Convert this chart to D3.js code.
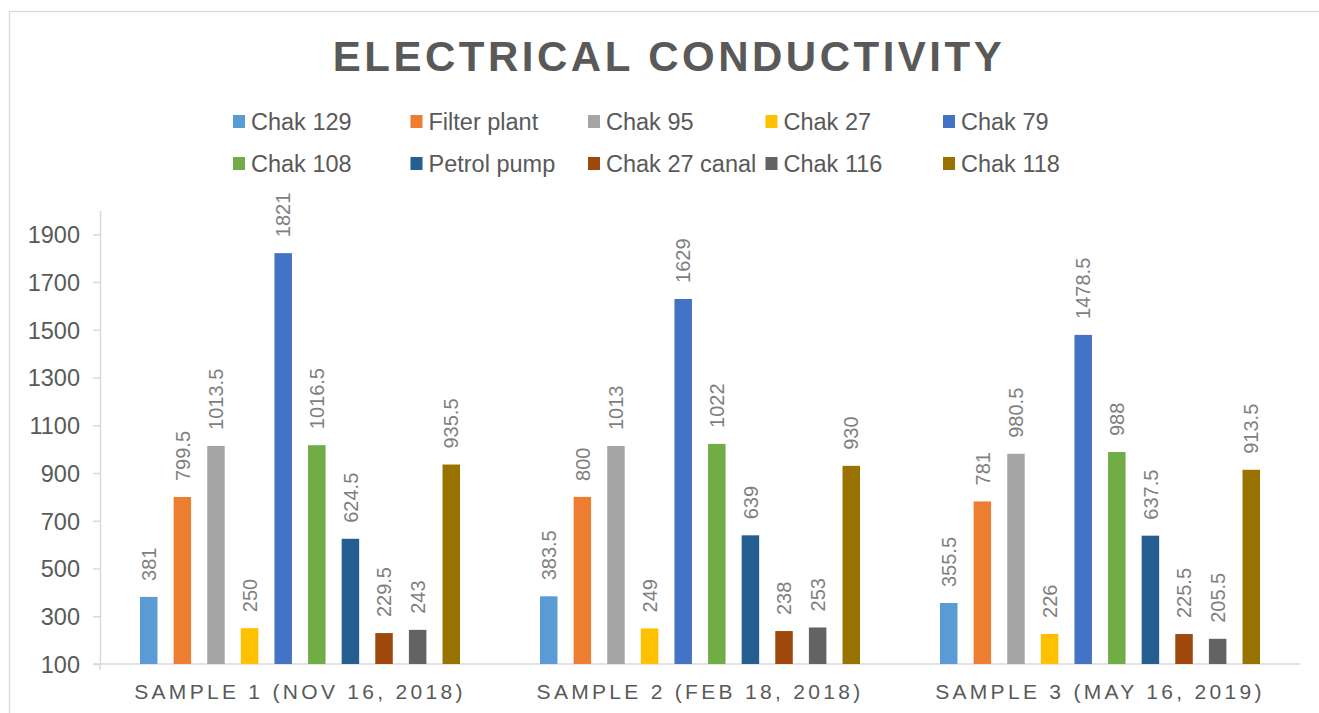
<!DOCTYPE html>
<html>
<head>
<meta charset="utf-8">
<script src="https://cdn.jsdelivr.net/npm/d3@7"></script>
<style>
  html, body { margin: 0; padding: 0; background: #ffffff; }
  svg { display: block; font-family: "Liberation Sans", Arial, sans-serif; }
</style>
</head>
<body>
<svg id="chart" width="1319" height="713"></svg>
<script>
// Sampling campaigns (x-axis categories)
const categories = ["SAMPLE 1 (NOV 16, 2018)", "SAMPLE 2 (FEB 18, 2018)", "SAMPLE 3 (MAY 16, 2019)"];

// Sampling sites (one bar per site in each campaign)
const sites = ["Chak 129", "Filter plant", "Chak 95", "Chak 27", "Chak 79",
               "Chak 108", "Petrol pump", "Chak 27 canal", "Chak 116", "Chak 118"];

const siteColors = ["#5B9BD5", "#ED7D31", "#A5A5A5", "#FFC000", "#4472C4",
                    "#70AD47", "#255E91", "#9E480E", "#636363", "#997300"];

// Electrical conductivity per site, one array per campaign
const sample1 = [381, 799.5, 1013.5, 250, 1821, 1016.5, 624.5, 229.5, 243, 935.5];
const sample2 = [383.5, 800, 1013, 249, 1629, 1022, 639, 238, 253, 930];
const sample3 = [355.5, 781, 980.5, 226, 1478.5, 988, 637.5, 225.5, 205.5, 913.5];

const yTicks = [100, 300, 500, 700, 900, 1100, 1300, 1500, 1700, 1900];

const sampleValues = [sample1, sample2, sample3];
const rows = categories.map((c, i) => ({
  category: c,
  bars: sites.map((s, j) => ({ site: s, color: siteColors[j], value: sampleValues[i][j] }))
}));

const svg = d3.select("#chart");
const axisColor = "#d9d9d9";
const textColor = "#595959";

// chart area frame
svg.append("rect")
  .attr("x", 9.5).attr("y", 11.5)
  .attr("width", 1400).attr("height", 800)
  .attr("fill", "none").attr("stroke", axisColor).attr("stroke-width", 1.3);

// title
svg.append("text")
  .attr("x", 669).attr("y", 71)
  .attr("text-anchor", "middle")
  .attr("font-size", 42).attr("font-weight", "bold")
  .attr("letter-spacing", 3.5)
  .attr("fill", textColor)
  .text("ELECTRICAL CONDUCTIVITY");

// legend: two rows of five
const legend = svg.append("g");
const item = legend.selectAll("g").data(sites).join("g")
  .attr("transform", (d, i) => `translate(${233 + (i % 5) * 177.5},${i < 5 ? 121.5 : 163.5})`);
item.append("rect")
  .attr("x", 0).attr("y", -6.5).attr("width", 12).attr("height", 13)
  .attr("fill", (d, i) => siteColors[i]);
item.append("text")
  .attr("x", 18).attr("y", 8.3)
  .attr("font-size", 23.5).attr("fill", textColor)
  .text(d => d);

// scales
const x0 = d3.scaleBand().domain(categories).range([100, 1300]).padding(0);
const bw = x0.bandwidth();
const x1 = d3.scaleBand().domain(sites).range([bw * 0.1, bw * 0.9]).paddingInner(0.48).paddingOuter(0);
const y = d3.scaleLinear().domain([100, 2000]).range([664, 210.4]);

// y axis
const yAxis = svg.append("g")
  .attr("transform", "translate(100,0)")
  .call(d3.axisLeft(y).tickValues(yTicks).tickFormat(d3.format("d"))
    .tickSize(7).tickPadding(13).tickSizeOuter(0));
yAxis.select(".domain").attr("stroke", axisColor).attr("stroke-width", 1.5);
yAxis.selectAll(".tick line").attr("stroke", axisColor).attr("stroke-width", 1.5);
yAxis.selectAll(".tick text")
  .attr("font-size", 23.5).attr("fill", textColor)
  .attr("font-family", "Liberation Sans, Arial, sans-serif")
  .attr("dy", "0.36em");
// short tick below the origin
svg.append("line")
  .attr("x1", 100).attr("x2", 100).attr("y1", 664).attr("y2", 670)
  .attr("stroke", axisColor).attr("stroke-width", 1.5);

// x axis
const xAxis = svg.append("g")
  .attr("transform", "translate(0,664)")
  .call(d3.axisBottom(x0).tickSize(0).tickPadding(20).tickSizeOuter(0));
xAxis.select(".domain").attr("stroke", axisColor).attr("stroke-width", 1.5)
  .attr("d", "M93,0H1300");
xAxis.selectAll(".tick text")
  .attr("font-size", 21).attr("fill", textColor)
  .attr("font-family", "Liberation Sans, Arial, sans-serif")
  .attr("letter-spacing", 3.3)
  .attr("dy", "0.71em");

// bars and rotated value labels
const groups = svg.append("g").selectAll("g").data(rows).join("g")
  .attr("transform", d => `translate(${x0(d.category)},0)`);

groups.selectAll("rect").data(d => d.bars).join("rect")
  .attr("x", d => x1(d.site))
  .attr("y", d => y(d.value))
  .attr("width", x1.bandwidth())
  .attr("height", d => y(100) - y(d.value))
  .attr("fill", d => d.color);

groups.selectAll("text.val").data(d => d.bars).join("text")
  .attr("class", "val")
  .attr("transform", d => `translate(${x1(d.site) + x1.bandwidth() / 2},${y(d.value) - 16}) rotate(-90)`)
  .attr("text-anchor", "start")
  .attr("dy", "0.36em")
  .attr("font-size", 20).attr("fill", "#7f7f7f")
  .text(d => d.value);
</script>
</body>
</html>
